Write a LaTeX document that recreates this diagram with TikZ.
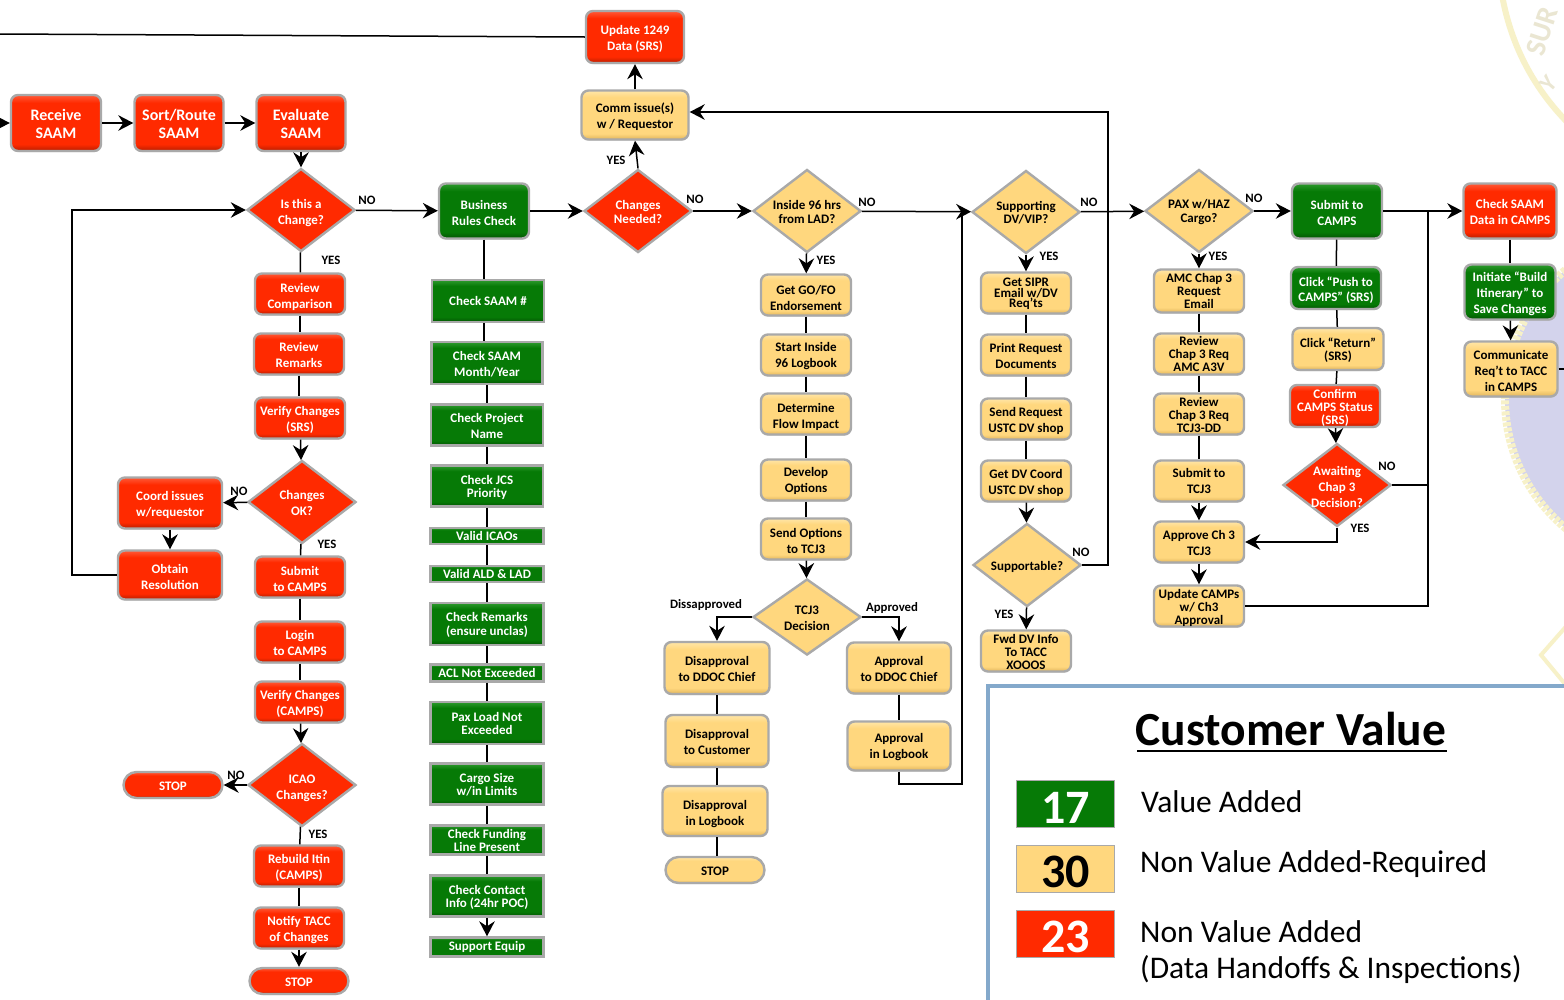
\documentclass[tikz,border=0pt]{standalone}
\usepackage{xcolor}
\usepackage{fontspec}
\setmainfont{Carlito}
\usetikzlibrary{arrows.meta,shapes.geometric,shadows}
\definecolor{redbody}{HTML}{FF2A00}
\definecolor{redlow}{HTML}{B81E00}
\definecolor{redtop}{HTML}{FF5A38}
\definecolor{grnbody}{HTML}{067A06}
\definecolor{grnlow}{HTML}{035403}
\definecolor{grntop}{HTML}{2E9A2E}
\definecolor{ylwbody}{HTML}{FFD77E}
\definecolor{ylwlow}{HTML}{E0B45C}
\definecolor{ylwtop}{HTML}{FFE6A8}
\definecolor{edgegray}{HTML}{A9A9A9}
\definecolor{legblue}{HTML}{84A9CB}
\definecolor{sealylw}{HTML}{F7F1C8}
\definecolor{seallav}{HTML}{D3D3EC}
\definecolor{sealtxt}{HTML}{EAE6D2}
\pgfdeclareverticalshading{redfill}{100bp}{color(0bp)=(redlow); color(25bp)=(redlow); color(31bp)=(redbody); color(68bp)=(redbody); color(75bp)=(redtop); color(100bp)=(redtop)}
\pgfdeclareverticalshading{grnfill}{100bp}{color(0bp)=(grnlow); color(25bp)=(grnlow); color(31bp)=(grnbody); color(68bp)=(grnbody); color(75bp)=(grntop); color(100bp)=(grntop)}
\pgfdeclareverticalshading{ylwfill}{100bp}{color(0bp)=(ylwlow); color(25bp)=(ylwlow); color(31bp)=(ylwbody); color(68bp)=(ylwbody); color(75bp)=(ylwtop); color(100bp)=(ylwtop)}
\newcommand{\boxfont}{\fontsize{13}{16}\bfseries\selectfont}
% tall first line, pushes the text down in its box
\newcommand{\dn}[1][13]{\rule{0pt}{#1pt}}
\tikzset{
  basebox/.style={rectangle,rounded corners=7pt,draw=edgegray,line width=2.4pt,align=center,inner sep=0pt,font=\boxfont,
    minimum width=90pt,minimum height=41pt,drop shadow={shadow xshift=.6pt,shadow yshift=-1pt,fill=gray!70}},
  redbox/.style={basebox,shade,shading=redfill,text=white},
  grnbox/.style={basebox,shade,shading=grnfill,text=white},
  ylwbox/.style={basebox,shade,shading=ylwfill,text=black},
  grnsq/.style={grnbox,rounded corners=0pt,minimum width=112pt},
  sz/.style 2 args={minimum width=#1pt,minimum height=#2pt},
  tight/.style={font=\fontsize{13}{13}\bfseries\selectfont},
  big/.style={font=\fontsize{16}{18}\bfseries\selectfont},
  pill/.style={rounded corners=13pt,minimum width=99pt,minimum height=26pt},
  basediam/.style={diamond,draw=edgegray,line width=2.4pt,shape aspect=1.3,inner sep=-8pt,align=center,font=\boxfont,
    minimum width=108pt,minimum height=83pt,drop shadow={shadow xshift=.6pt,shadow yshift=-1pt,fill=gray!60}},
  reddiam/.style={basediam,fill=redbody,text=white},
  ylwdiam/.style={basediam,fill=ylwbody,text=black},
  tag/.style={inner sep=0pt,font=\fontsize{12.8}{14}\bfseries\selectfont},
  link/.style={line width=1.5pt,draw=black},
  arr/.style={link,-{Stealth[length=15pt,width=15.5pt,inset=5pt]}},
  legtext/.style={anchor=west,inner sep=0pt,font=\fontsize{31.5}{36}\selectfont},
  legnum/.style={draw=edgegray,line width=1.6pt,inner sep=0pt,minimum width=98pt,minimum height=47pt,font=\fontsize{48}{48}\bfseries\selectfont},
}
\begin{document}
\begin{tikzpicture}[x=1pt,y=-1pt]
\clip (0,0) rectangle (1564,999);
\useasboundingbox (0,0) rectangle (1564,999);
% seal behind the chart
\fill[white] (0,0) rectangle (1564,999);
\draw[sealylw,line width=6pt] (1502,-5) .. controls (1510,40) and (1530,85) .. (1570,125);
\fill[seallav] (1673,399) circle (168);
\draw[sealylw,line width=8pt,dash pattern=on 4pt off 1.5pt] (1673,399) circle (168);
\draw[sealylw,line width=4pt] (1570,622) -- (1541,655) -- (1570,690);
\node[text=sealtxt,rotate=72,font=\fontsize{29}{29}\bfseries\selectfont] (sealsur) at (1542,31) {SUR};
\node[text=sealtxt,rotate=50,font=\fontsize{24}{24}\bfseries\selectfont] (sealy) at (1549,84) {Y};
% first column
\coordinate (inl) at (0,123);
\coordinate (inu) at (0,34);
\node[redbox,big,sz={90}{56}] (recv) at (56,123) {\dn[14]Receive\\SAAM};
\node[redbox,big,sz={89}{56}] (sort) at (179,123) {\dn[14]Sort/Route\\SAAM};
\node[redbox,big,sz={89}{56}] (eval) at (301,123) {\dn[14]Evaluate\\SAAM};
\node[reddiam] (isch) at (301,210) {\dn[15]Is this a\\Change?};
\node[redbox] (revc) at (300,294) {\dn[16]Review\\Comparison};
\node[redbox] (revr) at (299,354) {\dn[11]Review\\Remarks};
\node[redbox] (vers) at (300,418) {\dn Verify Changes\\(SRS)};
\node[reddiam] (chok) at (302,502) {\dn[11]Changes\\OK?};
\node[redbox,sz={104}{51}] (coord) at (170,503) {\dn Coord issues\\w/requestor};
\node[redbox,sz={104}{49}] (obtain) at (170,575) {\dn Obtain\\Resolution};
\node[redbox] (subc) at (300,577) {\dn Submit\\to CAMPS};
\node[redbox] (login) at (300,642) {\dn[11]Login\\to CAMPS};
\node[redbox] (verc) at (300,702) {\dn Verify Changes\\(CAMPS)};
\node[reddiam] (icao) at (302,785) {\dn[15]ICAO\\Changes?};
\node[redbox,pill] (stopa) at (173,785) {\dn[11]STOP};
\node[redbox] (rebuild) at (299,866) {\dn Rebuild Itin\\(CAMPS)};
\node[redbox] (notify) at (299,928) {\dn Notify TACC\\of Changes};
\node[redbox,pill] (stopb) at (299,981) {\dn[12]STOP};
% business rules column
\node[grnbox,sz={90}{55}] (busi) at (484,211) {\dn Business\\Rules Check};
\node[grnsq,sz={112}{42}] (csaam) at (488,301) {Check SAAM \#};
\node[grnsq,sz={111}{42}] (cmonth) at (487,363) {\dn[11]Check SAAM\\Month/Year};
\node[grnsq,sz={112}{41}] (cproj) at (487,425) {\dn[11]Check Project\\Name};
\node[grnsq,sz={112}{41},tight] (cjcs) at (487,486) {\dn Check JCS\\Priority};
\node[grnsq,sz={113}{16}] (cicao) at (487,536) {Valid ICAOs};
\node[grnsq,sz={113}{16}] (cald) at (487,574) {Valid ALD \& LAD};
\node[grnsq,sz={113}{42}] (crem) at (487,624) {\dn[11]Check Remarks\\[-1.5pt](ensure unclas)};
\node[grnsq,sz={113}{17}] (cacl) at (487,673) {ACL Not Exceeded};
\node[grnsq,sz={113}{42},tight] (cpax) at (487,723) {Pax Load Not\\Exceeded};
\node[grnsq,sz={113}{41},tight] (ccargo) at (487,784) {\dn[11]Cargo Size\\w/in Limits};
\node[grnsq,sz={113}{29},tight] (cfund) at (487,840) {Check Funding\\Line Present};
\node[grnsq,sz={113}{41},tight] (ccont) at (487,896) {\dn[11]Check Contact\\Info (24hr POC)};
\node[grnsq,sz={113}{19}] (cequip) at (487,947) {Support Equip};
% top centre
\node[redbox,sz={98}{52}] (upd) at (635,37) {\dn Update 1249\\Data (SRS)};
\node[ylwbox,sz={107}{49}] (comm) at (635,115) {\dn Comm issue(s)\\w / Requestor};
\node[reddiam] (chg) at (638,211) {\dn[11]Changes\\[-2.5pt]Needed?};
% inside 96 column
\node[ylwdiam] (ins) at (807,211) {\dn[11]Inside 96 hrs\\[-2.5pt]from LAD?};
\node[ylwbox] (getgo) at (806,295) {\dn[15]Get GO/FO\\Endorsement};
\node[ylwbox] (startl) at (806,355) {\dn[11]Start Inside\\96 Logbook};
\node[ylwbox] (deter) at (806,414) {\dn[15]Determine\\Flow Impact};
\node[ylwbox] (devop) at (806,480) {\dn[11]Develop\\Options};
\node[ylwbox] (sendo) at (806,539) {\dn Send Options\\to TCJ3};
\node[ylwdiam,sz={108}{76}] (dec) at (807,617) {\dn[11]TCJ3\\Decision};
\node[ylwbox,sz={105}{52}] (disd) at (717,668) {\dn[11]Disapproval\\to DDOC Chief};
\node[ylwbox,sz={103}{52}] (disc) at (717,741) {\dn[11]Disapproval\\to Customer};
\node[ylwbox,sz={105}{50}] (disl) at (715,811) {\dn[15]Disapproval\\in Logbook};
\node[ylwbox,pill,sz={99}{26}] (stopc) at (715,870) {\dn[11]STOP};
\node[ylwbox,sz={104}{51}] (appd) at (899,668) {\dn[11]Approval\\to DDOC Chief};
\node[ylwbox,sz={103}{49}] (appl) at (899,746) {\dn[11]Approval\\in Logbook};
% supporting column
\node[ylwdiam] (supp) at (1026,212) {\dn[11]Supporting\\[-2.5pt]DV/VIP?};
\node[ylwbox,tight] (sipr) at (1026,293) {\dn[11]Get SIPR\\[-2.5pt]Email w/DV\\[-2.5pt]Req’ts};
\node[ylwbox] (prnt) at (1026,355) {\dn[11]Print Request\\Documents};
\node[ylwbox] (sendr) at (1026,419) {\dn Send Request\\USTC DV shop};
\node[ylwbox] (getdv) at (1026,481) {\dn Get DV Coord\\USTC DV shop};
\node[ylwdiam] (sble) at (1027,565) {\dn Supportable?};
\node[ylwbox,tight] (fwd) at (1026,651) {\dn[11]Fwd DV Info\\To TACC\\XOOOS};
% pax column
\node[ylwdiam] (pax) at (1199,211) {\dn[11]PAX w/HAZ\\[-2.5pt]Cargo?};
\node[ylwbox,tight,sz={90}{43}] (amc) at (1199,291) {AMC Chap 3\\Request\\Email};
\node[ylwbox,tight] (ramc) at (1199,354) {Review\\Chap 3 Req\\AMC A3V};
\node[ylwbox,tight] (rtcj) at (1199,414) {\dn[11]Review\\Chap 3 Req\\TCJ3-DD};
\node[ylwbox] (stcj) at (1199,481) {Submit to\\TCJ3};
\node[ylwbox] (apch) at (1199,542) {\dn[11]Approve Ch 3\\TCJ3};
\node[ylwbox,tight] (updc) at (1199,606) {\dn Update CAMPs\\w/ Ch3\\Approval};
% camps column
\node[grnbox,sz={90}{55}] (subm) at (1337,211) {\dn Submit to\\CAMPS};
\node[grnbox,sz={90}{42}] (push) at (1336,288) {\dn Click “Push to\\[-1pt]CAMPS” (SRS)};
\node[ylwbox,tight,sz={91}{42}] (ret) at (1338,349) {\dn[12]Click “Return”\\(SRS)};
\node[redbox,tight,sz={90}{42}] (conf) at (1335,406) {\dn Confirm\\CAMPS Status\\(SRS)};
\node[reddiam] (awai) at (1337,485) {\dn Awaiting\\Chap 3\\Decision?};
\node[redbox,sz={93}{55}] (chkd) at (1510,211) {\dn[11]Check SAAM\\Data in CAMPS};
\node[grnbox,sz={91}{55}] (init) at (1510,292) {\dn Initiate “Build\\Itinerary” to\\Save Changes};
\node[ylwbox,sz={93}{55}] (cmcm) at (1511,369) {\dn Communicate\\Req’t to TACC\\in CAMPS};
\coordinate (outr) at (1564,369);
% corners of the long lines
\coordinate (loopl) at (72,211);
\coordinate (backr) at (1108,112);
\coordinate (joinw) at (962,212);
\coordinate (joins) at (962,784);
\coordinate (joinr) at (1428,212);
% connectors
\draw[link] (inu) -- (upd.west);
\draw[arr] (inl) -- (recv);
\draw[arr] (recv) -- (sort);
\draw[arr] (sort) -- (eval);
\draw[arr] (eval) -- (isch);
\draw[link] (isch) -- (revc);
\draw[link] (revc) -- (revc|-revr.north);
\draw[link] (revr.south) -- (revr.south|-vers.north);
\draw[arr] (vers) -- (chok);
\draw[link] (chok) -- (subc);
\draw[arr] (chok) -- (coord);
\draw[arr] (coord) -- (obtain);
\draw[arr] (obtain.west) -- (obtain.west-|loopl) |- (isch.west);
\draw[link] (subc) -- (login);
\draw[link] (login) -- (verc);
\draw[arr] (verc) -- (icao);
\draw[arr] (icao) -- (stopa);
\draw[link] (icao) -- (rebuild);
\draw[link] (rebuild) -- (notify);
\draw[arr] (notify) -- (stopb);
\draw[arr] (isch) -- (busi);
\draw[arr] (busi) -- (chg);
\draw[link] (busi.south) -- (busi.south|-csaam.north);
\draw[link] (busi.south|-csaam.south) -- (busi.south|-cmonth.north);
\draw[link] (cmonth.south) -- (cmonth.south|-cproj.north);
\draw[link] (cproj) -- (cjcs);
\draw[link] (cjcs) -- (cicao);
\draw[link] (cicao) -- (cald);
\draw[link] (cald) -- (crem);
\draw[link] (crem) -- (cacl);
\draw[link] (cacl) -- (cpax);
\draw[link] (cpax) -- (ccargo);
\draw[link] (ccargo) -- (cfund);
\draw[link] (cfund) -- (ccont);
\draw[arr] (ccont) -- (cequip);
\draw[arr] (chg.north) -- (comm.south);
\draw[arr] (comm) -- (upd);
\draw[arr] (sble.east) -| (backr) -- (backr-|comm.east);
\draw[arr] (chg) -- (ins);
\draw[arr] (ins) -- (getgo);
\draw[link] (getgo) -- (startl);
\draw[link] (startl) -- (deter);
\draw[link] (deter) -- (devop);
\draw[link] (devop) -- (sendo);
\draw[arr] (sendo) -- (dec);
\draw[arr] (dec.west) -| (disd.north);
\draw[arr] (dec.east) -| (appd.north);
\draw[link] (disd) -- (disc);
\draw[link] (disc.south) -- (disc.south|-disl.north);
\draw[link] (disc.south|-disl.south) -- (disc.south|-stopc.north);
\draw[link] (appd) -- (appl);
\draw[link] (appl.south) |- (joins) -- (joinw);
\draw[arr] (ins) -- (supp);
\draw[arr] (supp) -- (sipr);
\draw[link] (sipr) -- (prnt);
\draw[link] (prnt) -- (sendr);
\draw[link] (sendr) -- (getdv);
\draw[arr] (getdv) -- (sble);
\draw[arr] (sble) -- (fwd);
\draw[arr] (supp) -- (pax);
\draw[arr] (pax) -- (amc);
\draw[link] (amc) -- (ramc);
\draw[link] (ramc) -- (rtcj);
\draw[link] (rtcj) -- (stcj);
\draw[arr] (stcj) -- (apch);
\draw[arr] (apch) -- (updc);
\draw[link] (updc.east) -| (joinr);
\draw[arr] (pax) -- (subm);
\draw[arr] (subm) -- (chkd);
\draw[link] (subm) -- (push);
\draw[link] (push) -- (ret);
\draw[link] (ret) -- (conf);
\draw[arr] (conf) -- (awai);
\draw[link] (awai.east) -- (awai.east-|joinr);
\draw[arr] (awai.south) |- (apch.east);
\draw[link] (chkd) -- (init);
\draw[arr] (init) -- (cmcm);
\draw[link] (cmcm.east) -- (outr);
% yes and no tags
\node[tag] (noa) at (367,200) {NO};
\node[tag] (yesa) at (331,260) {YES};
\node[tag] (nob) at (239,491) {NO};
\node[tag] (yesb) at (327,544) {YES};
\node[tag] (noc) at (236,775) {NO};
\node[tag] (yesc) at (318,834) {YES};
\node[tag] (yesd) at (616,160) {YES};
\node[tag] (nod) at (695,199) {NO};
\node[tag] (noe) at (867,202) {NO};
\node[tag] (yese) at (826,260) {YES};
\node[tag] (dis) at (706,605) {Dissapproved};
\node[tag] (app) at (892,608) {Approved};
\node[tag] (nof) at (1089,202) {NO};
\node[tag] (yesf) at (1049,256) {YES};
\node[tag] (nog) at (1081,552) {NO};
\node[tag] (yesg) at (1004,614) {YES};
\node[tag] (noh) at (1254,198) {NO};
\node[tag] (yesh) at (1218,256) {YES};
\node[tag] (noi) at (1387,466) {NO};
\node[tag] (yesi) at (1360,528) {YES};
% legend
\draw[legblue,line width=4pt,fill=white] (988,686) rectangle (1620,1040);
\node[inner sep=0pt,font=\fontsize{47.5}{47.5}\bfseries\selectfont] (ltitle) at (1291,729) {Customer Value};
\draw[line width=2.6pt] (1137,751) -- (1447,751);
\node[legnum,fill=grnbody,text=white] (leg17) at (1065.5,804) {\dn[38]17};
\node[legnum,fill=ylwbody,text=black] (leg30) at (1065.5,869) {\dn[38]30};
\node[legnum,fill=redbody,text=white] (leg23) at (1065.5,934) {\dn[38]23};
\node[legtext] (lva) at (1141,802) {Value Added};
\node[legtext] (lnr) at (1140,864) {Non Value Added-Required};
\node[legtext] (lna) at (1140,932) {Non Value Added};
\node[legtext] (ldh) at (1140,970) {(Data Handoffs \& Inspections)};
\end{tikzpicture}
\end{document}
